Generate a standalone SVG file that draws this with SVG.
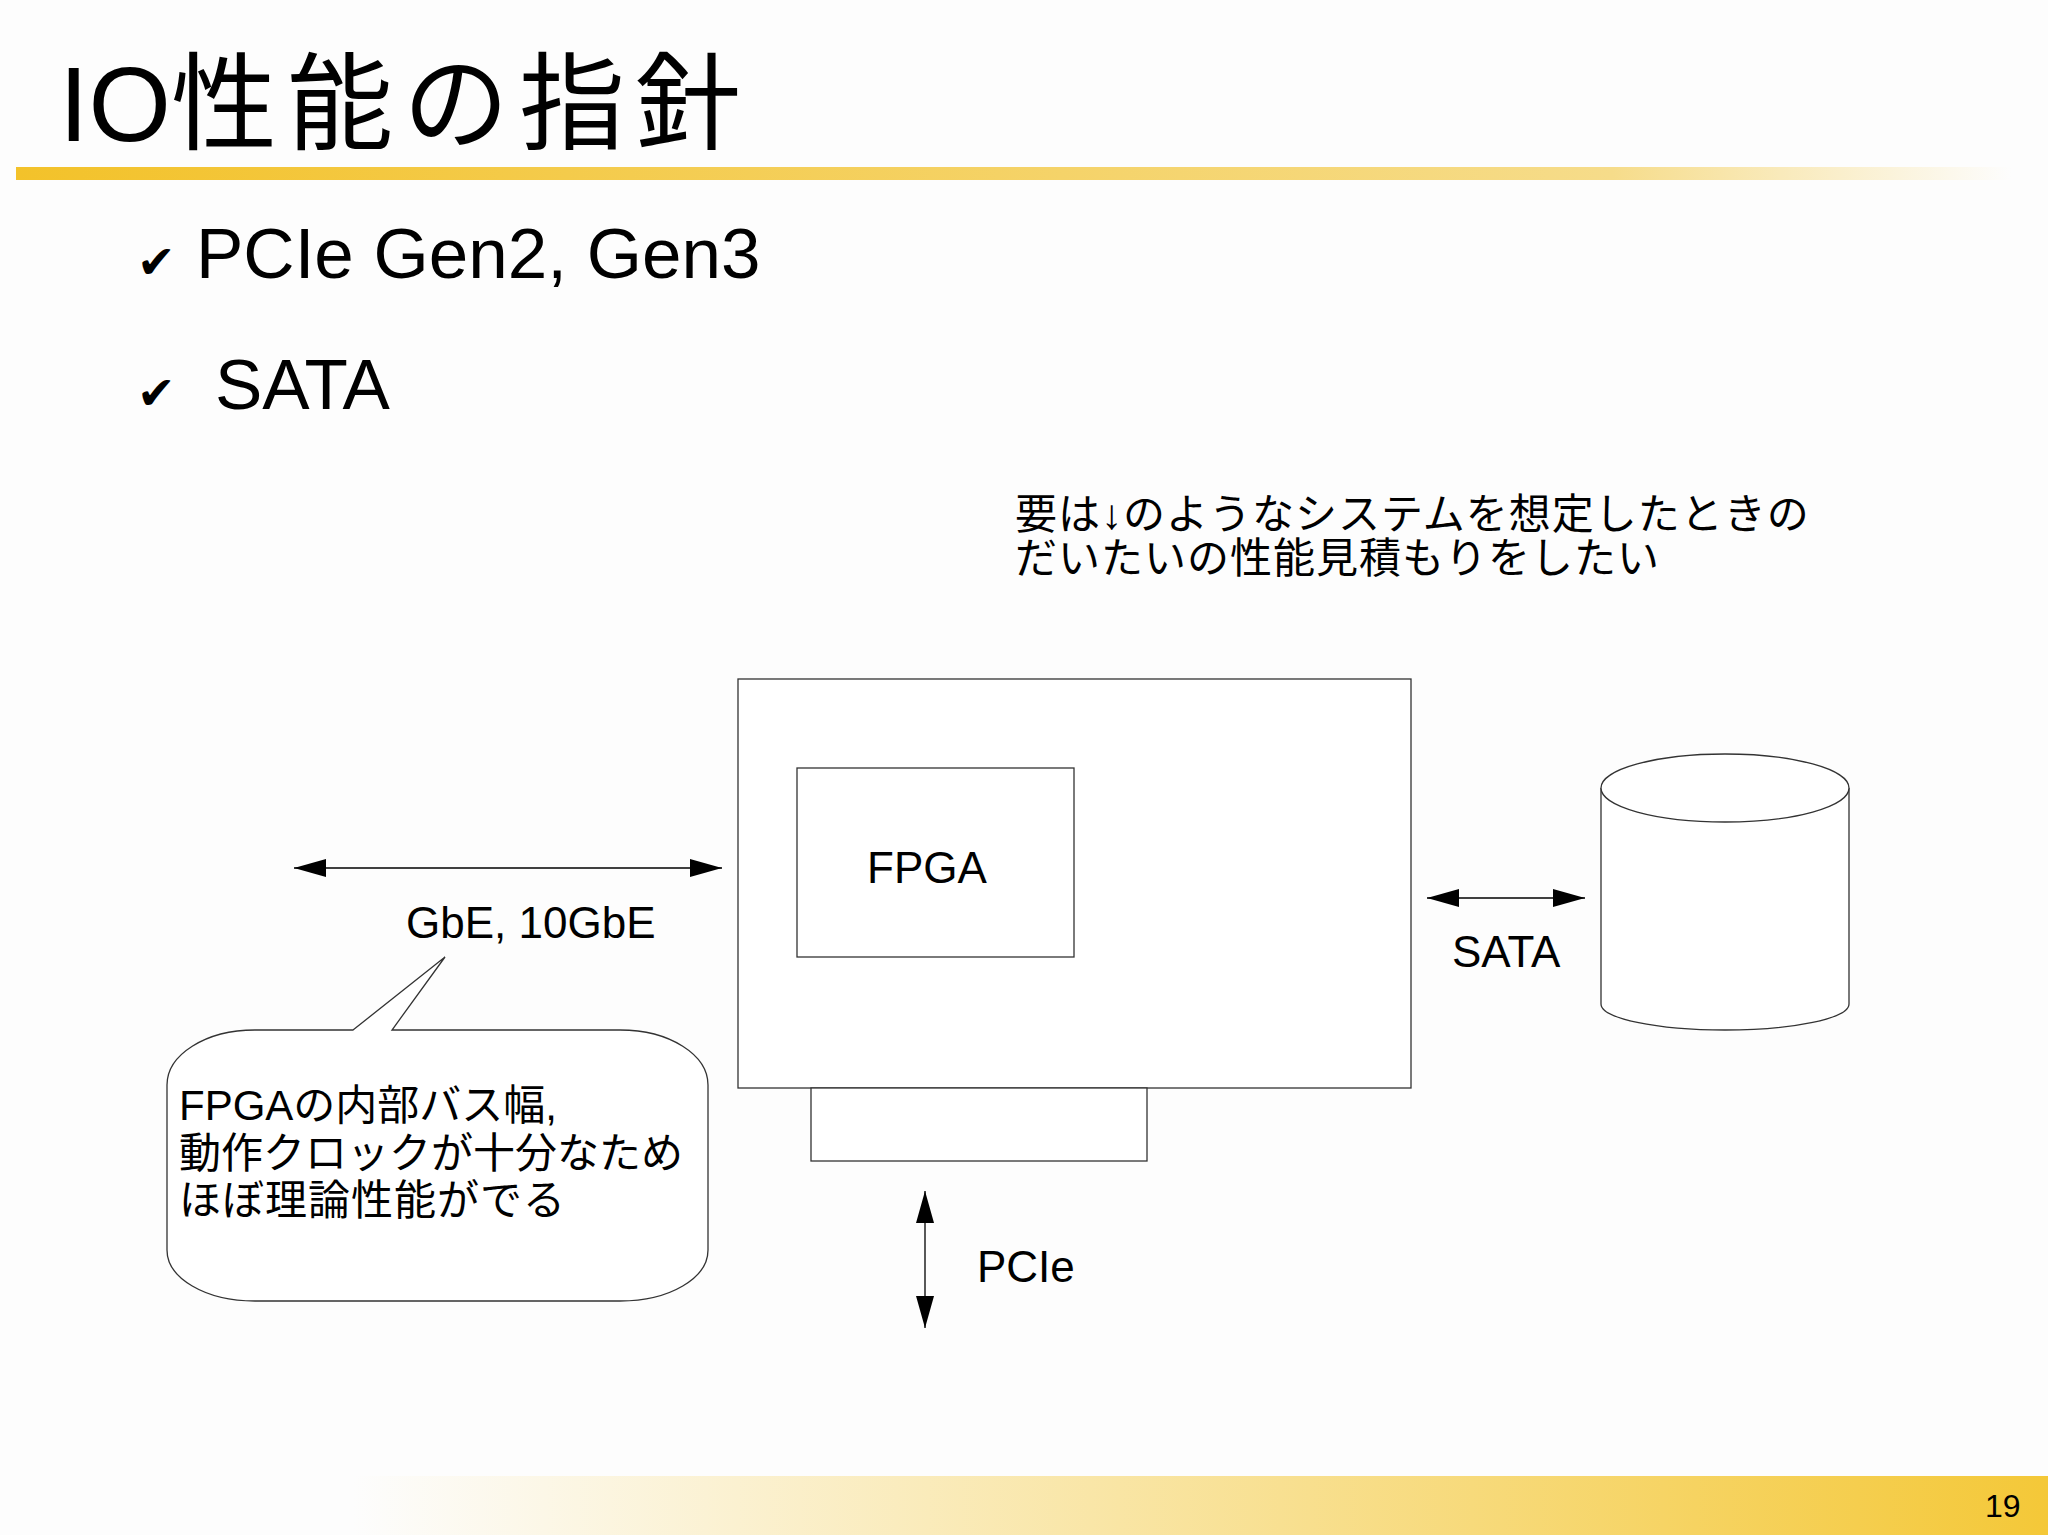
<svg xmlns="http://www.w3.org/2000/svg" width="2048" height="1535" viewBox="0 0 2048 1535">
<style>
.t{font-family:"Liberation Sans","Noto Sans CJK JP",sans-serif;fill:#000}
.s{fill:none;stroke:#333;stroke-width:1.3}
.w{fill:#fff;stroke:#333;stroke-width:1.3}
.a{stroke:#000;stroke-width:1.3;fill:none;marker-start:url(#ah);marker-end:url(#ah)}
</style>
<defs>
<linearGradient id="g1" x1="0" x2="1"><stop offset="0" stop-color="#f3c22a"/><stop offset="0.8" stop-color="#f6dc8a"/><stop offset="1" stop-color="#fdfdfd"/></linearGradient>
<linearGradient id="g2" x1="0" x2="1"><stop offset="0" stop-color="#fdfdfd"/><stop offset="1" stop-color="#f4c838"/></linearGradient>
<marker id="ah" viewBox="0 0 32 18" refX="32" refY="9" markerWidth="32" markerHeight="18" markerUnits="userSpaceOnUse" orient="auto-start-reverse"><path d="M0,0L32,9L0,18z" fill="#000"/></marker>
</defs>
<rect width="2048" height="1535" fill="#fdfdfd"/>
<text class="t" x="59" y="141" font-size="106">IO<tspan letter-spacing="10">性能の指針</tspan></text>
<rect x="16" y="167" width="1995" height="13" fill="url(#g1)"/>
<rect x="353" y="1476" width="1695" height="59" fill="url(#g2)"/>
<text class="t" x="1985" y="1517" font-size="32">19</text>
<text class="t" x="137" y="278" font-size="46">✔</text>
<text class="t" x="196" y="278" font-size="71">PCIe Gen2, Gen3</text>
<text class="t" x="137" y="409" font-size="46">✔</text>
<text class="t" x="215" y="409" font-size="71">SATA</text>
<text class="t" x="1015" y="529" font-size="42" letter-spacing="1">要は↓のようなシステムを想定したときの</text>
<text class="t" x="1015" y="573" font-size="42" letter-spacing="1">だいたいの性能見積もりをしたい</text>
<g id="board"><rect class="w" x="738" y="679" width="673" height="409"/></g>
<g id="fpga"><rect class="w" x="797" y="768" width="277" height="189"/><text class="t" x="927" y="883" font-size="44" text-anchor="middle">FPGA</text></g>
<g id="tab"><rect class="w" x="811" y="1088" width="336" height="73"/></g>
<g id="disk"><path class="w" d="M1601,788 V1004 A124,26 0 0 0 1849,1004 V788"/><ellipse class="w" cx="1725" cy="788" rx="124" ry="34"/></g>
<g id="callout"><path class="w" d="M353,1030 L445,957 L392,1030 H620 C670,1030 708,1055 708,1085 V1250 C708,1278 670,1301 620,1301 H255 C205,1301 167,1278 167,1250 V1085 C167,1055 205,1030 255,1030 Z"/>
<text class="t" x="179" y="1120" font-size="42">FPGAの内部バス幅,</text>
<text class="t" x="179" y="1168" font-size="42">動作クロックが十分なため</text>
<text class="t" x="179" y="1215" font-size="42" letter-spacing="1">ほぼ理論性能がでる</text></g>
<g id="connectors">
<line class="a" x1="294" y1="868" x2="722" y2="868"/>
<line class="a" x1="1427" y1="898" x2="1585" y2="898"/>
<line class="a" x1="925" y1="1191" x2="925" y2="1328"/>
</g>
<text class="t" x="406" y="938" font-size="44">GbE, 10GbE</text>
<text class="t" x="1452" y="967" font-size="44">SATA</text>
<text class="t" x="977" y="1282" font-size="44">PCIe</text>
</svg>
